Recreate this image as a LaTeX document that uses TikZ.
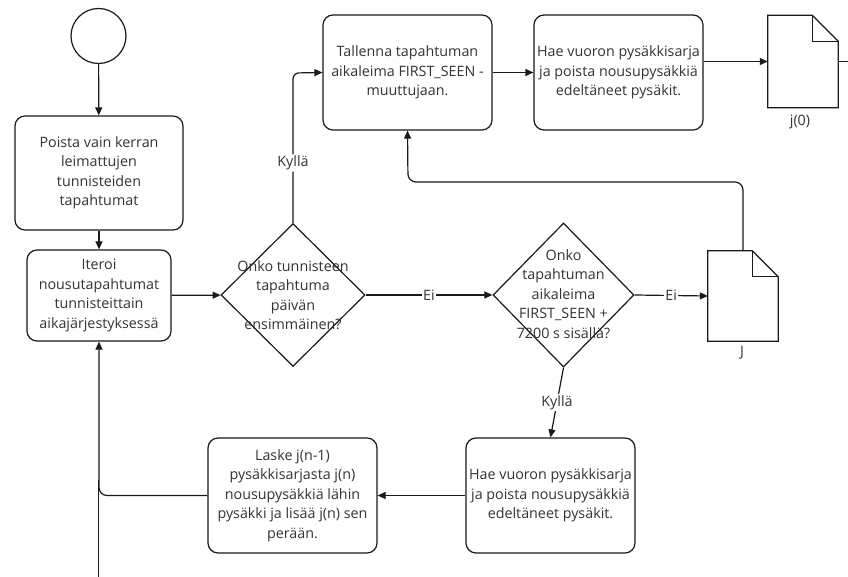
\documentclass[tikz,border=0pt]{standalone}
\usepackage{fontspec}
\setmainfont{Open Sans}
\usetikzlibrary{shapes.geometric,arrows.meta}
\definecolor{ink}{HTML}{1A1A1A}
\definecolor{txt}{HTML}{333333}
\tikzset{
  flow/.style={line width=1.2pt, draw=ink},
  arr/.style={flow, -{Triangle[length=8pt,width=7pt]}},
  procbox/.style={draw=ink, line width=1.2pt, rounded corners=10pt, align=center,
    text=txt, font=\fontsize{14.3}{19.5}\selectfont, inner sep=0pt},
  decision/.style={draw=ink, line width=1.2pt, diamond, inner sep=0pt},
  dectext/.style={align=center, text=txt, font=\fontsize{14.3}{19.5}\selectfont},
  docframe/.style={draw=none, inner sep=0pt},
  lbl/.style={fill=white, text=txt, font=\fontsize{14.3}{15}\selectfont, inner sep=1.5pt},
  caption/.style={text=txt, font=\fontsize{14.3}{15}\selectfont},
}
\begin{document}
\begin{tikzpicture}[x=1pt,y=-1pt]
\useasboundingbox[fill=white] (0,0) rectangle (848,577);

% start
\node[draw=ink, line width=1.2pt, circle, minimum size=55pt, inner sep=0pt] (start) at (98.5,36) {};

% process boxes
\node[procbox, minimum width=168pt, minimum height=114pt] (b1) at (99,173)
  {Poista vain kerran\\leimattujen\\tunnisteiden\\tapahtumat};
\node[procbox, minimum width=144pt, minimum height=91pt] (b2) at (99,295.5)
  {Iteroi\\nousutapahtumat\\tunnisteittain\\aikajärjestyksessä};
\node[procbox, minimum width=169pt, minimum height=115pt] (b3) at (407.5,72.5)
  {Tallenna tapahtuman\\aikaleima FIRST\_SEEN -\\muuttujaan.};
\node[procbox, minimum width=169pt, minimum height=115pt] (b4) at (618.5,72.5)
  {Hae vuoron pysäkkisarja\\ja poista nousupysäkkiä\\edeltäneet pysäkit.};
\node[procbox, minimum width=169pt, minimum height=115pt] (b5) at (550.5,495.5)
  {Hae vuoron pysäkkisarja\\ja poista nousupysäkkiä\\edeltäneet pysäkit.};
\node[procbox, minimum width=169pt, minimum height=115pt] (b6) at (292.5,495.5)
  {Laske j(n-1)\\pysäkkisarjasta j(n)\\nousupysäkkiä lähin\\pysäkki ja lisää j(n) sen\\perään.};

% decisions
\node[decision, minimum width=144pt, minimum height=143pt] (d1) at (293,295) {};
\node[dectext] (d1t) at (293,295) {Onko tunnisteen\\tapahtuma\\päivän\\ensimmäinen?};
\node[decision, minimum width=141pt, minimum height=144pt] (d2) at (563.5,295) {};
\node[dectext] (d2t) at (563.5,294) {Onko\\tapahtuman\\aikaleima\\FIRST\_SEEN +\\7200 s sisällä?};

% documents
\node[docframe, minimum width=70pt, minimum height=92pt] (j0) at (803,61.5) {};
\node[docframe, minimum width=70pt, minimum height=90pt] (jj) at (743,296) {};
\foreach \d in {j0,jj}{
  \draw[flow, fill=white, line join=miter] (\d.north west) -- ([xshift=-26pt]\d.north east)
    -- ([yshift=-26pt]\d.north east) -- (\d.south east) -- (\d.south west) -- cycle;
  \draw[flow] ([xshift=-26pt]\d.north east) |- ([yshift=-26pt]\d.north east);
}
\node[caption] (j0l) at (800,122) {j(0)};
\node[caption] (jjl) at (742,353) {J};

% free ends at the picture's edges
\coordinate (rightend) at (848,61.5);
\coordinate (bottomend) at (98.5,577);

% connectors
\draw[arr] (start) -- (b1);
\draw[arr] (b1) -- (b2);
\draw[arr] (b2) -- (d1);
\draw[arr, rounded corners=6pt] (d1.north) -- (293,73)
  node[lbl, pos=0.4] {Kyllä} -- (b3.west);
\draw[arr] (b3) -- (b4);
\draw[arr] ([yshift=11pt]b4.east) -- (j0.west);
\draw[flow] (j0.east) -- (rightend);
\draw[arr] (d1.east) -- node[lbl] {Ei} (d2.west);
\draw[arr] (d2.east) -- node[lbl] {Ei} (jj.west);
\draw[arr, rounded corners=8pt] (jj.north) |- (408,182) -- (b3.south);
\draw[arr] (d2.south) -- node[lbl] {Kyllä} (b5.north);
\draw[arr] (b5) -- (b6);
\draw[arr, rounded corners=8pt] (b6.west) -| (b2.south);
\draw[flow] (bottomend) -- (98.5,480);
\end{tikzpicture}
\end{document}
